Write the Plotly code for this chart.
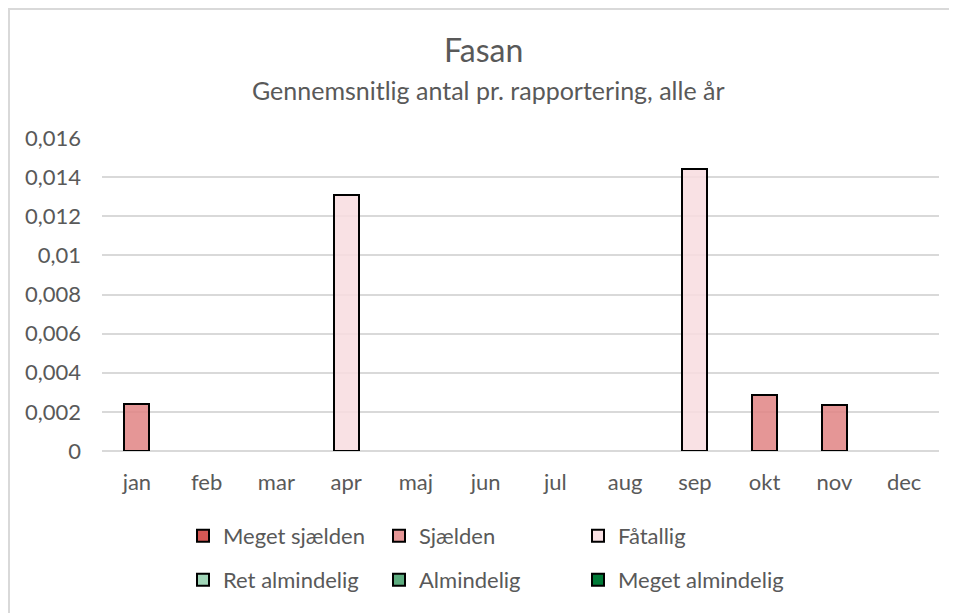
import plotly.graph_objects as go

months = ["jan", "feb", "mar", "apr", "maj", "jun", "jul", "aug", "sep", "okt", "nov", "dec"]

series_names = ["Meget sjælden", "Sjælden", "Fåtallig", "Ret almindelig", "Almindelig", "Meget almindelig"]

meget_sjaelden = [None] * 12
sjaelden = [0.0024, None, None, None, None, None, None, None, None, 0.00285, 0.00233, None]
faatallig = [None, None, None, 0.0131, None, None, None, None, 0.01443, None, None, None]
ret_almindelig = [None] * 12
almindelig = [None] * 12
meget_almindelig = [None] * 12

series_values = [meget_sjaelden, sjaelden, faatallig, ret_almindelig, almindelig, meget_almindelig]
series_colors = ["rgba(206,58,54,0.85)", "rgba(225,132,132,0.85)", "rgba(248,220,223,0.85)",
                 "rgba(145,207,172,0.85)", "rgba(65,158,104,0.85)", "rgba(0,122,55,1)"]

y_tickvals = [0, 0.002, 0.004, 0.006, 0.008, 0.01, 0.012, 0.014, 0.016]
y_ticktext = ["0", "0,002", "0,004", "0,006", "0,008", "0,01", "0,012", "0,014", "0,016"]

title_text = "Fasan"
subtitle_text = "Gennemsnitlig antal pr. rapportering, alle år"

OFF = 8  # page body margin
W, H = 957 - OFF, 613 - OFF
# plot area in page px
L, R, T, B = 102, 939, 138, 451

FONT = "Lato"
GREY = "#595959"

# legend swatch centres (page px): 3 columns x 2 rows
leg_cols = [202, 398, 597]
leg_rows = [536, 580]

fig = go.Figure()
legend_layouts = {}
for i, (name, vals, col) in enumerate(zip(series_names, series_values, series_colors)):
    key = "legend" if i == 0 else f"legend{i + 1}"
    fig.add_trace(go.Bar(
        x=months, y=vals, name=name,
        marker=dict(color=col, line=dict(color="black", width=2)),
        legend=key,
    ))
    cx = leg_cols[i % 3]
    cy = leg_rows[i // 3]
    legend_layouts[key] = dict(
        orientation="h", xref="container", yref="container",
        xanchor="left", yanchor="middle",
        x=(cx - 19 - OFF) / W, y=1 - (cy - OFF) / H,
        font=dict(family=FONT, size=22, color=GREY),
        bgcolor="rgba(0,0,0,0)", itemclick=False, itemdoubleclick=False,
    )

def px_x(px):
    return (px - L) / (R - L)

def px_y(py):
    return (B - py) / (B - T)

fig.update_layout(
    width=W, height=H,
    margin=dict(l=L - OFF, r=957 - R, t=T - OFF, b=613 - B, pad=0),
    paper_bgcolor="white", plot_bgcolor="white",
    barmode="stack", bargap=0.64,
    separators=", ",
    font=dict(family=FONT, color=GREY),
    showlegend=True,
    xaxis=dict(
        showgrid=False, showline=False, zeroline=False, ticks="",
        tickfont=dict(family=FONT, size=22, color=GREY),
        ticklabelstandoff=16,
    ),
    yaxis=dict(
        range=[0, 0.016], tickvals=y_tickvals, ticktext=y_ticktext,
        showgrid=True, gridcolor="#D9D9D9", gridwidth=2,
        zeroline=True, zerolinecolor="#D9D9D9", zerolinewidth=2,
        showline=False, ticks="",
        tickfont=dict(family=FONT, size=22, color=GREY),
        ticklabelstandoff=20,
    ),
    annotations=[
        dict(text=title_text, x=px_x(483), y=px_y(50), xref="paper", yref="paper",
             showarrow=False, xanchor="center", yanchor="middle",
             font=dict(family=FONT, size=32, color=GREY)),
        dict(text=subtitle_text, x=px_x(488), y=px_y(90), xref="paper", yref="paper",
             showarrow=False, xanchor="center", yanchor="middle",
             font=dict(family=FONT, size=25, color=GREY)),
    ],
    shapes=[
        dict(type="line", xref="paper", yref="paper", x0=px_x(OFF), x1=px_x(957), y0=px_y(OFF + 1), y1=px_y(OFF + 1),
             line=dict(color="#D9D9D9", width=2)),
        dict(type="line", xref="paper", yref="paper", x0=px_x(OFF + 1), x1=px_x(OFF + 1), y0=px_y(OFF), y1=px_y(613),
             line=dict(color="#D9D9D9", width=2)),
    ],
)
fig.update_layout(**legend_layouts)

fig.write_html("out.html")
